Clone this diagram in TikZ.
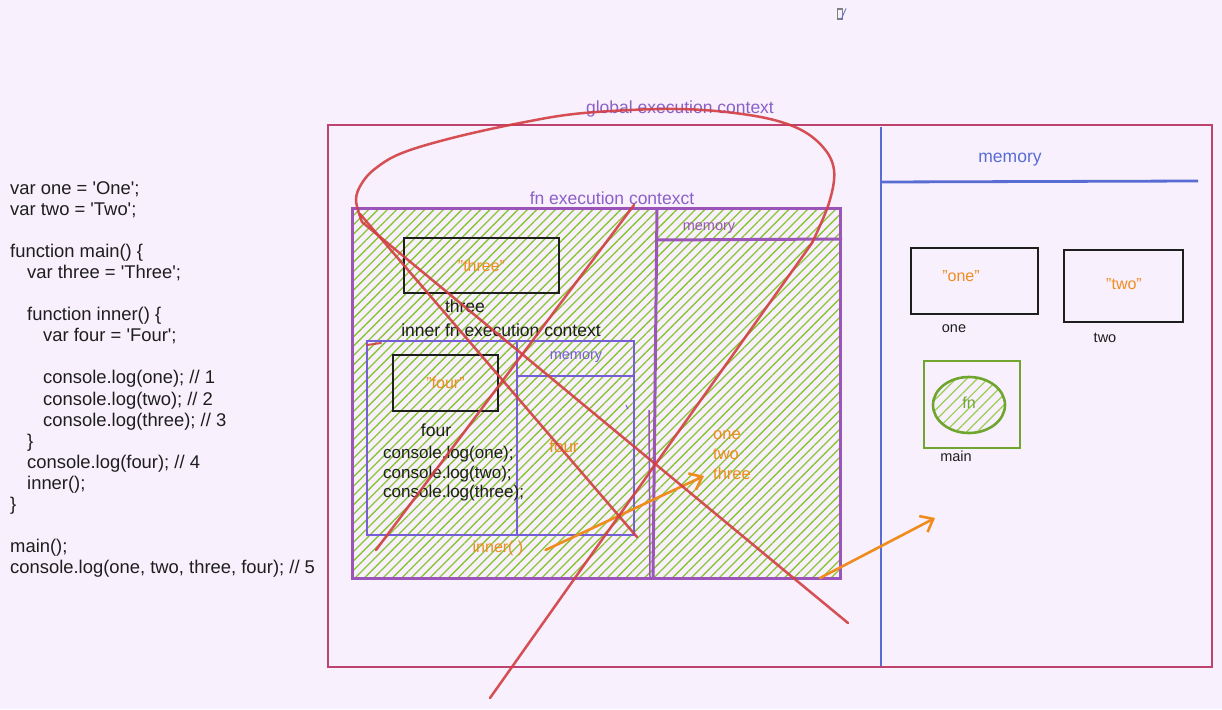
\documentclass[tikz,border=0pt]{standalone}
\usepackage{fontspec}
\setmainfont{Liberation Sans}
\usetikzlibrary{arrows.meta,patterns.meta,shapes.geometric}
\definecolor{bgc}{RGB}{248,240,252}
\definecolor{crim}{RGB}{192,66,110}
\definecolor{memblue}{RGB}{88,108,212}
\definecolor{fnpurp}{RGB}{155,85,185}
\definecolor{innviol}{RGB}{118,94,216}
\definecolor{hatchg}{RGB}{135,198,50}
\definecolor{orng}{RGB}{240,140,30}
\definecolor{redl}{RGB}{210,62,66}
\definecolor{ink}{RGB}{30,30,30}
\definecolor{lblpurp}{RGB}{140,96,200}
\definecolor{fngreen}{RGB}{112,165,48}
\tikzset{
  frame/.style={draw, inner sep=0pt, outer sep=0pt, anchor=north west},
  txt/.style={inner sep=0pt, font=\fontsize{17.5}{20}\selectfont},
  small/.style={inner sep=0pt, font=\fontsize{14.5}{17}\selectfont},
  val/.style={inner sep=0pt, text=orng, font=\fontsize{16}{19}\selectfont},
  hatch/.style={pattern={Lines[angle=45,distance=6.6pt,line width=1.3pt]}, pattern color=hatchg},
  orarrow/.style={draw=orng, line width=2.6pt, line cap=round, -{Straight Barb[length=11pt,width=18pt]}},
  scribble/.style={draw=redl, line width=2.5pt, line cap=round, line join=round, opacity=0.9},
}
\begin{document}
\begin{tikzpicture}[x=1pt,y=-1pt]
\useasboundingbox (0,0) rectangle (1222,709);
\fill[bgc] (0,0) rectangle (1222,709);

% tiny icon at top
\node[draw=gray, line width=1.2pt, minimum width=5pt, minimum height=10pt, inner sep=0pt] (icon) at (840,14) {};
\draw[memblue, line width=0.8pt] ([xshift=1pt]icon.south) -- ([xshift=3pt]icon.north east);

% code
\node[inner sep=0pt, anchor=north west, align=left, text=ink, font=\fontsize{18.4}{21.1}\selectfont] (code) at (10,181) {%
var one = \textquotesingle One\textquotesingle;\\
var two = \textquotesingle Two\textquotesingle;\\
\mbox{}\\
function main() \{\\
\hspace*{17pt}var three = \textquotesingle Three\textquotesingle;\\
\mbox{}\\
\hspace*{17pt}function inner() \{\\
\hspace*{33pt}var four = \textquotesingle Four\textquotesingle;\\
\mbox{}\\
\hspace*{33pt}console.log(one); // 1\\
\hspace*{33pt}console.log(two); // 2\\
\hspace*{33pt}console.log(three); // 3\\
\hspace*{17pt}\}\\
\hspace*{17pt}console.log(four); // 4\\
\hspace*{17pt}inner();\\
\}\\
\mbox{}\\
main();\\
console.log(one, two, three, four); // 5};

% global execution context
\node[frame, draw=crim, line width=2.8pt, minimum width=884pt, minimum height=542pt] (global) at (328,125) {};
\draw[memblue, line width=2.6pt] (881,127) -- (881,666);
\draw[memblue, line width=2.8pt] (881,182) -- (1198,181);
\node[txt, text=lblpurp] (gectx) at (680,109) {global execution context};
\node[txt, text=memblue] (gmem) at (1010,160) {memory};

% fn execution context
\node[frame, draw=fnpurp, line width=3pt, hatch, minimum width=488pt, minimum height=370pt] (fn) at (352,208) {};
\draw[fnpurp, line width=3pt] (657,208) -- (653,578);
\draw[fnpurp, line width=1.5pt] (649,410) -- (650,578);
\draw[fnpurp, line width=3pt] (657,240) -- (842,239);
\node[txt, text=lblpurp] (fnctx) at (612,198) {fn execution contexct};
\node[small, text=fnpurp] (fnmem) at (709,228) {memory};

\node[frame, draw=ink, line width=2.8pt, minimum width=155pt, minimum height=55pt] (threebox) at (404,238) {};
\node[val] (threeval) at (threebox.center) {"three"};
\node[txt, text=ink] (threelbl) at (465,306) {three};
\node[txt, text=ink] (innctx) at (501,330) {inner fn execution context};

% inner fn execution context
\node[frame, draw=innviol, line width=2.6pt, minimum width=267pt, minimum height=194pt] (inner) at (367,341) {};
\draw[innviol, line width=2.6pt] (517,341) -- (517,535);
\draw[innviol, line width=2.6pt] (518,376) -- (633,376);
\node[small, text=innviol] (inmem) at (576,357) {memory};
\node[frame, draw=ink, line width=2.8pt, minimum width=105pt, minimum height=56pt] (fourbox) at (393,355) {};
\node[val] (fourval) at (fourbox.center) {"four"};
\node[txt, text=ink] (fourlbl) at (436,430) {four};
\node[inner sep=0pt, anchor=north west, align=left, text=ink, font=\fontsize{17}{19.5}\selectfont] (logs) at (383,446) {console.log(one);\\console.log(two);\\console.log(three);};
\node[val, font=\fontsize{17}{20}\selectfont] (fourmem) at (564,446) {four};
\node[val] (innercall) at (498,548) {inner( )};
\node[inner sep=0pt, anchor=north west, align=left, text=orng, font=\fontsize{16.5}{20}\selectfont] (vars) at (713,430) {one\\two\\three};
\draw[innviol, line width=1pt] (626,405) -- (628,409);

% global memory contents
\node[frame, draw=ink, line width=2.8pt, minimum width=127pt, minimum height=66pt] (onebox) at (911,248) {};
\node[val] (oneval) at (961,276) {"one"};
\node[small, text=ink] (onelbl) at (954,329) {one};
\node[frame, draw=ink, line width=2.8pt, minimum width=119pt, minimum height=72pt] (twobox) at (1064,250) {};
\node[val] (twoval) at (1124,284) {"two"};
\node[small, text=ink] (twolbl) at (1105,338) {two};
\node[frame, draw=fngreen, line width=2.6pt, minimum width=96pt, minimum height=87pt] (mainbox) at (924,361) {};
\node[ellipse, draw=fngreen, line width=2.6pt, minimum width=72pt, minimum height=56pt, inner sep=0pt,
      pattern={Lines[angle=45,distance=7.5pt,line width=1.2pt]}, pattern color=hatchg!85!white] (fnell) at (969,405) {};
\node[inner sep=0pt, text=fngreen, font=\fontsize{16}{19}\selectfont] (fnlbl) at (969,403) {fn};
\node[small, text=ink] (mainlbl) at (956,456) {main};

% arrows
\coordinate (memtarget) at (935,518);
\coordinate (varsin) at (704,476);
\draw[orarrow] ([shift={(22pt,-2pt)}]innercall.east) -- (varsin);
\draw[orarrow] ([xshift=-20pt]fn.south east) -- (memtarget);

% red scribbles
\draw[scribble] (848,623) -- plot[smooth, tension=0.6] coordinates {(362,222) (356,200) (362,183) (376,168) (402,153) (452,138) (520,123) (584,113) (677,109) (749,115) (795,127) (822,146) (834,170) (829,203) (812,243)} -- (490,698);
\draw[scribble] (360,214) -- (637,537);
\draw[scribble] (634,205) -- (376,550);
\draw[scribble, line width=2pt] (367,345) -- (381,343);
\end{tikzpicture}
\end{document}
